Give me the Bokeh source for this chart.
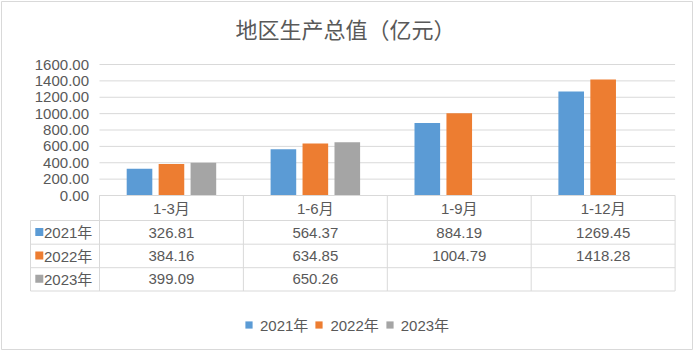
from bokeh.plotting import figure
from bokeh.models import Range1d, Legend, LegendItem
from bokeh.core.properties import value
from bokeh.embed import file_html
from bokeh.resources import INLINE

# ---------------- data ----------------
title_text = "地区生产总值（亿元）"
periods = ["1-3月", "1-6月", "1-9月", "1-12月"]
series = ["2021年", "2022年", "2023年"]
v2021 = [326.81, 564.37, 884.19, 1269.45]
v2022 = [384.16, 634.85, 1004.79, 1418.28]
v2023 = [399.09, 650.26, None, None]
colors = ["#5B9BD5", "#ED7D31", "#A5A5A5"]
y_ticks = [0, 200, 400, 600, 800, 1000, 1200, 1400, 1600]

# ---------------- layout helpers (pixel -> data) ----------------
W, H = 694, 351
CW = 143.9            # px per category
K = 1600 / 131.0      # value units per px
X0, Y0 = 99, 195      # page px of category 0 start / value 0


def ux(px):
    return (px - X0) / CW


def vy(py):
    return (Y0 - py) * K


FONT_S = "'Liberation Sans', 'Noto Sans CJK SC', sans-serif"
FONT = value(FONT_S)
CJK = value("'Noto Sans CJK SC', sans-serif")
TXT = "#595959"
LINE = "#D9D9D9"

p = figure(width=W, height=H, output_backend="svg", toolbar_location=None,
           x_range=Range1d(ux(1), ux(692)), y_range=Range1d(vy(349), vy(1)),
           min_border_left=1, min_border_top=1, min_border_right=2, min_border_bottom=2)
p.axis.visible = False
p.grid.visible = False
p.outline_line_color = LINE
p.outline_line_width = 1
p.background_fill_color = "white"
p.border_fill_color = "white"

# title
p.text(x=[ux(345)], y=[vy(27.5)], text=[title_text], text_font=CJK,
       text_font_size="22px", text_color=TXT, text_align="center", text_baseline="middle")

# gridlines
p.segment(x0=[0] * len(y_ticks), x1=[4] * len(y_ticks), y0=y_ticks, y1=y_ticks,
          line_color=LINE, line_width=1)

# y tick labels
p.text(x=[ux(88.5)] * len(y_ticks), y=y_ticks, text=[f"{t:.2f}" for t in y_ticks],
       text_font=FONT, text_font_size="15px", text_color=TXT,
       text_align="right", text_baseline="middle")

# bars
offsets = [-0.222, 0.0, 0.222]
bw = 0.178
vals = [v2021, v2022, v2023]
renderers = []
for j, (name, vs) in enumerate(zip(series, vals)):
    xs = [i + 0.5 + offsets[j] for i, v in enumerate(vs) if v is not None]
    ys = [v for v in vs if v is not None]
    r = p.vbar(x=xs, top=ys, bottom=0, width=bw, fill_color=colors[j], line_color=None)
    renderers.append(r)

# data table grid
rows_py = [195, 220, 243.7, 267.2, 290.5]
p.segment(x0=[0], x1=[4], y0=[vy(rows_py[0])], y1=[vy(rows_py[0])], line_color=LINE)
p.segment(x0=[ux(30)] * 4, x1=[4] * 4, y0=[vy(r) for r in rows_py[1:]],
          y1=[vy(r) for r in rows_py[1:]], line_color=LINE)
p.segment(x0=[0, 1, 2, 3, 4], x1=[0, 1, 2, 3, 4], y0=[vy(195)] * 5, y1=[vy(290.5)] * 5,
          line_color=LINE)
p.segment(x0=[ux(30)], x1=[ux(30)], y0=[vy(220)], y1=[vy(290.5)], line_color=LINE)

# header row
p.text(x=[i + 0.5 for i in range(4)], y=[vy(207.5)] * 4, text=periods, text_font=FONT,
       text_font_size="15px", text_color=TXT, text_align="center", text_baseline="middle")

# value rows
row_centers = [232.0, 255.5, 278.8]
for j, vs in enumerate(vals):
    xs = [i + 0.5 for i, v in enumerate(vs) if v is not None]
    ts = [f"{v:.2f}" for v in vs if v is not None]
    p.text(x=xs, y=[vy(row_centers[j])] * len(xs), text=ts, text_font=FONT,
           text_font_size="15px", text_color=TXT, text_align="center", text_baseline="middle")
    # row key
    p.scatter(x=[ux(38.8)], y=[vy(row_centers[j] - 0.5)], marker="square", size=8,
              fill_color=colors[j], line_color=None)
    p.text(x=[ux(43.5)], y=[vy(row_centers[j])], text=[series[j]], text_font=FONT,
           text_font_size="15px", text_color=TXT, text_align="left", text_baseline="middle")

# legend
legend = Legend(items=[LegendItem(label=s, renderers=[r]) for s, r in zip(series, renderers)],
                orientation="horizontal", location=(243, 14),
                glyph_width=9, glyph_height=9, label_standoff=7, spacing=6,
                padding=0, margin=0, border_line_color=None, background_fill_alpha=0,
                label_text_font=FONT_S, label_text_font_size="15px", label_text_color=TXT)
p.add_layout(legend)

open("out.html", "w").write(file_html(p, INLINE))
